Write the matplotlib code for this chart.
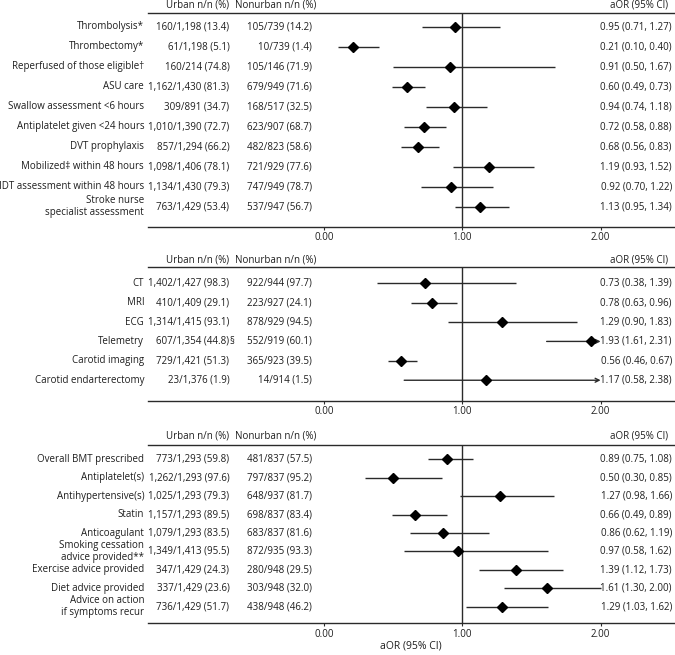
import matplotlib
matplotlib.use('Agg')
import matplotlib.pyplot as plt

plt.rcParams['font.family'] = ['Open Sans', 'DejaVu Sans']

# ---------------- data ----------------
p1_labels = ["Thrombolysis*", "Thrombectomy*", "Reperfused of those eligible\u2020", "ASU care",
             "Swallow assessment <6 hours", "Antiplatelet given <24 hours", "DVT prophylaxis",
             "Mobilized\u2021 within 48 hours", "IDT assessment within 48 hours",
             "Stroke nurse\nspecialist assessment"]
p1_urban_n = [160, 61, 160, 1162, 309, 1010, 857, 1098, 1134, 763]
p1_urban_d = [1198, 1198, 214, 1430, 891, 1390, 1294, 1406, 1430, 1429]
p1_urban_pct = [13.4, 5.1, 74.8, 81.3, 34.7, 72.7, 66.2, 78.1, 79.3, 53.4]
p1_urban_mark = ["", "", "", "", "", "", "", "", "", ""]
p1_non_n = [105, 10, 105, 679, 168, 623, 482, 721, 747, 537]
p1_non_d = [739, 739, 146, 949, 517, 907, 823, 929, 949, 947]
p1_non_pct = [14.2, 1.4, 71.9, 71.6, 32.5, 68.7, 58.6, 77.6, 78.7, 56.7]
p1_aor = [0.95, 0.21, 0.91, 0.60, 0.94, 0.72, 0.68, 1.19, 0.92, 1.13]
p1_lo = [0.71, 0.10, 0.50, 0.49, 0.74, 0.58, 0.56, 0.93, 0.70, 0.95]
p1_hi = [1.27, 0.40, 1.67, 0.73, 1.18, 0.88, 0.83, 1.52, 1.22, 1.34]

p2_labels = ["CT", "MRI", "ECG", "Telemetry", "Carotid imaging", "Carotid endarterectomy"]
p2_urban_n = [1402, 410, 1314, 607, 729, 23]
p2_urban_d = [1427, 1409, 1415, 1354, 1421, 1376]
p2_urban_pct = [98.3, 29.1, 93.1, 44.8, 51.3, 1.9]
p2_urban_mark = ["", "", "", "\u00a7", "", ""]
p2_non_n = [922, 223, 878, 552, 365, 14]
p2_non_d = [944, 927, 929, 919, 923, 914]
p2_non_pct = [97.7, 24.1, 94.5, 60.1, 39.5, 1.5]
p2_aor = [0.73, 0.78, 1.29, 1.93, 0.56, 1.17]
p2_lo = [0.38, 0.63, 0.90, 1.61, 0.46, 0.58]
p2_hi = [1.39, 0.96, 1.83, 2.31, 0.67, 2.38]

p3_labels = ["Overall BMT prescribed", "Antiplatelet(s)", "Antihypertensive(s)", "Statin",
             "Anticoagulant", "Smoking cessation\nadvice provided**", "Exercise advice provided",
             "Diet advice provided", "Advice on action\nif symptoms recur"]
p3_urban_n = [773, 1262, 1025, 1157, 1079, 1349, 347, 337, 736]
p3_urban_d = [1293, 1293, 1293, 1293, 1293, 1413, 1429, 1429, 1429]
p3_urban_pct = [59.8, 97.6, 79.3, 89.5, 83.5, 95.5, 24.3, 23.6, 51.7]
p3_urban_mark = ["", "", "", "", "", "", "", "", ""]
p3_non_n = [481, 797, 648, 698, 683, 872, 280, 303, 438]
p3_non_d = [837, 837, 937, 837, 837, 935, 948, 948, 948]
p3_non_pct = [57.5, 95.2, 81.7, 83.4, 81.6, 93.3, 29.5, 32.0, 46.2]
p3_aor = [0.89, 0.50, 1.27, 0.66, 0.86, 0.97, 1.39, 1.61, 1.29]
p3_lo = [0.75, 0.30, 0.98, 0.49, 0.62, 0.58, 1.12, 1.30, 1.03]
p3_hi = [1.08, 0.85, 1.66, 0.89, 1.19, 1.62, 1.73, 2.00, 1.62]

xticks = [0.0, 1.0, 2.0]
xtick_labels = ["0.00", "1.00", "2.00"]
hdr_urban = "Urban n/n (%)"
hdr_non = "Nonurban n/n (%)"
hdr_aor = "aOR (95% CI)"
x_label = "aOR (95% CI)"

# ---------------- layout ----------------
W, H = 675, 655
FS = 7.0
TXT = '#1e1e1e'
LINE = '#2a2a2a'
XMIN, XMAX = -1.276, 2.538
CLIP = 2.0
X_LABEL = -1.30
X_URB = -0.684
X_NON = -0.089
X_NON_HDR = -0.053
X_AOR = 2.516
X_AOR_HDR = 2.49

fig = plt.figure(figsize=(W / 100, H / 100), dpi=100)


def fmt_frac(n, d, p):
    return f"{n:,}/{d:,} ({p:.1f})"


def panel(top_px, bot_px, top_off, bot_off, labels, un, ud, up, um, nn, nd, npc,
          aor, lo, hi, hdr_off=5.4, xlabel=False):
    ax = fig.add_axes([147.5 / W, 1 - bot_px / H, (W - 147.5) / W, (bot_px - top_px) / H])
    n = len(labels)
    ax.set_xlim(XMIN, XMAX)
    ax.set_ylim(n - 1 + bot_off, -top_off)
    for s in ['left', 'right']:
        ax.spines[s].set_visible(False)
    for s in ['top', 'bottom']:
        ax.spines[s].set_color(LINE)
        ax.spines[s].set_linewidth(1.0)
    ax.set_yticks([])
    ax.set_xticks(xticks)
    ax.set_xticklabels(xtick_labels)
    ax.tick_params(axis='x', direction='out', length=2, width=0.8, pad=1.8,
                   labelsize=FS, colors=LINE, labelcolor=TXT)
    ax.axvline(1.0, color=LINE, lw=1.0, zorder=1)

    for i in range(n):
        ax.text(X_LABEL, i, labels[i], ha='right', va='center', fontsize=FS, color=TXT,
                linespacing=1.12)
        ax.text(X_URB, i, fmt_frac(un[i], ud[i], up[i]), ha='right', va='center',
                fontsize=FS, color=TXT)
        if um[i]:
            ax.text(X_URB, i, um[i], ha='left', va='center', fontsize=FS, color=TXT)
        ax.text(X_NON, i, fmt_frac(nn[i], nd[i], npc[i]), ha='right', va='center',
                fontsize=FS, color=TXT)
        ax.text(X_AOR, i, f"{aor[i]:.2f} ({lo[i]:.2f}, {hi[i]:.2f})", ha='right',
                va='center', fontsize=FS, color=TXT)
        if hi[i] > CLIP:
            ax.annotate('', xy=(CLIP, i), xytext=(lo[i], i),
                        arrowprops=dict(arrowstyle='->', lw=1.0, color=LINE,
                                        shrinkA=0, shrinkB=0, mutation_scale=7))
        else:
            ax.plot([lo[i], hi[i]], [i, i], color=LINE, lw=1.0, zorder=2,
                    solid_capstyle='butt')
        ax.plot(aor[i], i, marker='D', ms=5.5, color='black', zorder=3)

    for x, t in [(X_URB, hdr_urban), (X_NON_HDR, hdr_non), (X_AOR_HDR, hdr_aor)]:
        ax.annotate(t, xy=(x, 1), xycoords=('data', 'axes fraction'), xytext=(0, hdr_off),
                    textcoords='offset points', ha='right', va='center', fontsize=FS,
                    color=TXT, annotation_clip=False)
    if xlabel:
        ax.set_xlabel(x_label, fontsize=FS + 0.5, color=TXT, labelpad=1)
    return ax


panel(12.5, 227, 0.71, 1.015, p1_labels, p1_urban_n, p1_urban_d, p1_urban_pct, p1_urban_mark,
      p1_non_n, p1_non_d, p1_non_pct, p1_aor, p1_lo, p1_hi)
panel(267.3, 401, 0.82, 1.07, p2_labels, p2_urban_n, p2_urban_d, p2_urban_pct, p2_urban_mark,
      p2_non_n, p2_non_d, p2_non_pct, p2_aor, p2_lo, p2_hi)
panel(445, 623.3, 0.78, 0.9, p3_labels, p3_urban_n, p3_urban_d, p3_urban_pct, p3_urban_mark,
      p3_non_n, p3_non_d, p3_non_pct, p3_aor, p3_lo, p3_hi, hdr_off=6.4, xlabel=True)

fig.savefig('out.png', dpi=100, facecolor='white')
